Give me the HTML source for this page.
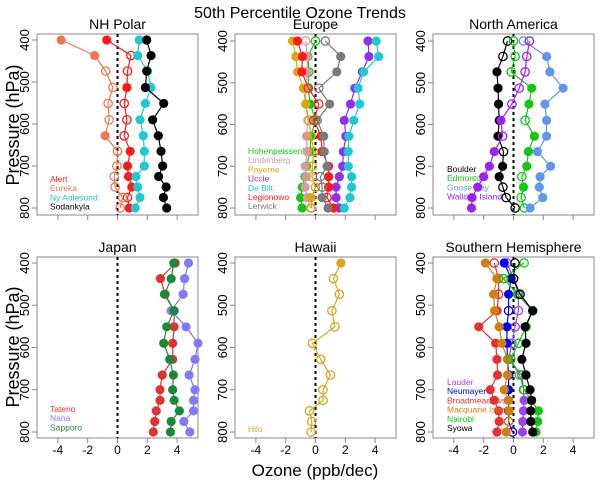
<!DOCTYPE html>
<html><head><meta charset="utf-8"><style>
html,body{margin:0;padding:0;background:#fff;}
svg{display:block;font-family:"Liberation Sans",Arial,sans-serif;}
</style></head><body>
<svg id="c" width="600" height="480" viewBox="0 0 600 480">
<text x="300" y="18" text-anchor="middle" font-size="16">50th Percentile Ozone Trends</text>
<text x="0" y="0" transform="translate(19,125) rotate(-90)" text-anchor="middle" font-size="18">Pressure (hPa)</text>
<text x="0" y="0" transform="translate(19,347) rotate(-90)" text-anchor="middle" font-size="18">Pressure (hPa)</text>
<text x="315" y="476" text-anchor="middle" font-size="17">Ozone (ppb/dec)</text>
</svg>
<script>
const levels = [400,437,474,513,551,590,628,665,700,725,750,775,800];
const xTicks = [-4,-2,0,2,4];
const yTicks = [400,500,600,700,800];
const panelTitles = ["NH Polar","Europe","North America","Japan","Hawaii","Southern Hemisphere"];

// panel 0 NH Polar
const alertVals = [-0.72,0.9,0.67,0.63,0.45,0.63,0.45,0.85,0.67,0.74,0.96,0.67,0.79];
const alertSig  = "FOOFOOOFFFFOF";
const eurekaVals = [-3.78,-1.53,-0.79,-0.31,-0.63,-0.56,-0.83,0,-0.04,-0.22,-0.16,0.34,0.18];
const eurekaSig  = "FFOOOOFOOOOOO";
const nyVals = [1.46,1.35,2.02,2.25,1.87,1.51,1.73,1.8,1.8,1.24,1.35,1.51,1.19];
const nySig  = "FFFFFFFFFFFFF";
const sodVals = [1.96,2.25,1.96,1.87,3.1,2.36,2.74,2.92,3.03,2.76,3.26,3.08,3.3];
const sodSig  = "FFFFFFFFFFFFF";
// panel 1 Europe
const hohVals = [0,-0.5,-0.44,-0.5,-0.35,0,-0.3,-0.37,-0.6,-0.7,-0.88,-1.0,-0.9];
const hohSig  = "OFOFFOFFFFFFF";
const linVals = [-0.66,-0.55,-0.55,-0.66,-0.66,-0.5,-0.6,-0.55,-0.7,-0.6,-0.7,-0.55,-0.33];
const linSig  = "OFFFFOFFFFFFO";
const payVals = [-1.54,-1.32,-1.2,-0.81,-0.66,-0.44,-0.29,-0.11,-0.22,-0.22,0,-0.29,-0.26];
const paySig  = "FFFFFOOOOOOFO";
const uccVals = [3.52,3.58,3.14,2.64,2.35,1.93,2.04,1.87,1.82,1.6,1.38,1.38,1.6];
const uccSig  = "FFFFFFFFFFFFF";
const debVals = [4.07,4.24,3.23,2.86,2.97,2.57,2.24,2.2,2.2,2.42,2.42,2.31,1.93];
const debSig  = "FFFFFFFFFFFFF";
const legVals = [-1.21,-0.88,-0.92,-0.48,0.22,-0.11,0.37,0.44,0.88,0.88,0.88,0.77,1.21];
const legSig  = "FFFOOOFFFFFOF";
const lerVals = [0.66,1.69,1.43,0.22,0.95,0.11,0.55,0.59,0.77,0.33,0.44,0.44,0.84];
const lerSig  = "OFFOFOFFFOOFF";
// panel 2 North America
const bouVals = [-0.4,-0.71,-1.11,-1.04,-1.0,-0.96,-1.04,-0.67,-0.73,-0.96,-0.71,-0.49,0.11];
const bouSig  = "OOFFFFFOFFOOO";
const edmVals = [0,0.11,-0.16,1.22,1.04,0.78,1.4,1.0,0.89,0.56,0.67,0.51,0.73];
const edmSig  = "OOOFFOFFFOFOO";
const gooVals = [0.67,2.22,2.44,3.33,2.11,2.22,2.22,1.6,2.49,1.78,1.73,1.96,1.11];
const gooSig  = "OFFFFFFFFFFFF";
const walVals = [1.07,0.89,0.78,0.38,-0.11,-0.84,-0.73,-1.29,-1.62,-2.0,-2.4,-2.78,-2.82];
const walSig  = "OOOOOFOFFFFFF";
// panel 3 Japan
const tatVals = [3.87,2.88,3.2,3.8,3.8,3.7,3.7,3.0,2.85,2.85,2.6,2.5,2.4];
const nahVals = [4.76,4.5,4.4,3.6,4.6,5.4,5.2,4.8,5.2,5.1,5.1,4.45,4.85];
const sapVals = [3.77,3.6,3.15,3.8,3.3,3.1,3.5,3.75,3.7,3.8,4.15,3.6,3.55];
const allSig  = "FFFFFFFFFFFFF";
// panel 4 Hawaii
const hiloVals = [1.7,1.2,1.6,1.1,1.3,-0.2,0.35,1.0,0.5,0.5,-0.4,-0.25,-0.3];
const hiloSig  = "FOOOOOOOOOOOO";
// panel 5 Southern Hemisphere
const lauVals = [-0.44,0,0.33,0.33,0.11,-0.11,-0.33,0.56,0.67,0.71,0.67,0.62,0.6];
const lauSig  = "OOOOOOOOOFFFF";
const neuVals = [-0.62,-0.16,-0.33,-0.33,-0.44,-0.44,-0.4,-0.33,-0.33,-0.33,-0.33,-0.33,-0.07];
const neuSig  = "FFFOFFFOFFFOO";
const broVals = [-1.29,-1.0,-1.0,-1.1,-2.33,-1.2,-1.11,-1.07,-1.56,-1.29,-1.0,-0.96,-1.11];
const broSig  = "OOOFFFFFFFFFF";
const macVals = [-1.89,-1.11,-1.33,-1.27,-0.96,-0.78,-0.4,-0.4,-0.62,-0.33,-0.29,-0.33,-0.49];
const macSig  = "FFFFFFFFFFFOF";
const naiVals = [0.71,-0.67,0.27,1.29,0.84,0.33,-0.18,0.4,0.71,1.18,1.67,1.62,1.51];
const naiSig  = "OOOOOOOOOFFFF";
const syoVals = [0.1,0,0.44,1.29,0.78,0.84,0.56,0.84,1.11,1.22,1.16,1.16,1.29];
const syoSig  = "OOOFFFFFFFFFF";

const panels = [
 {l:37,t:34,r:198,b:215,y4:40,y8:208,xl:false,yl:true,lx:50,ly:182,series:[
  ["Alert","#ff1a1a",alertVals,alertSig],["Eureka","#f07850",eurekaVals,eurekaSig],
  ["Ny Aalesund","#20c8d2",nyVals,nySig],["Sodankyla","#000000",sodVals,sodSig]]},
 {l:235,t:34,r:396,b:215,y4:41,y8:208,xl:false,yl:true,lx:248,ly:154,series:[
  ["Hohenpeissenberg","#10c810",hohVals,hohSig],["Lindenberg","#d898a8",linVals,linSig],
  ["Payerne","#d8a810",payVals,paySig],["Uccle","#9030f0",uccVals,uccSig],
  ["De Bilt","#20c8d2",debVals,debSig],["Legionowo","#ff1a1a",legVals,legSig],
  ["Lerwick","#7a7a7a",lerVals,lerSig]]},
 {l:433,t:34,r:594,b:215,y4:41,y8:208,xl:false,yl:true,lx:447,ly:172,series:[
  ["Boulder","#000000",bouVals,bouSig],["Edmonton","#10c810",edmVals,edmSig],
  ["Goose Bay","#6495ed",gooVals,gooSig],["Wallops Island","#a020f0",walVals,walSig]]},
 {l:37,t:257,r:198,b:438,y4:263,y8:432,xl:true,yl:true,lx:50,ly:412,series:[
  ["Tateno","#dd3333",tatVals,allSig],["Naha","#8478ff",nahVals,allSig],
  ["Sapporo","#1a8a3a",sapVals,allSig]]},
 {l:235,t:257,r:396,b:438,y4:263,y8:432,xl:true,yl:true,lx:248,ly:432,series:[
  ["Hilo","#daa520",hiloVals,hiloSig]]},
 {l:433,t:257,r:594,b:438,y4:263,y8:432,xl:true,yl:true,lx:447,ly:385,series:[
  ["Lauder","#a040f0",lauVals,lauSig],["Neumayer","#0000ff",neuVals,neuSig],
  ["Broadmeadows","#e83030",broVals,broSig],["Macquarie Island","#d08010",macVals,macSig],
  ["Nairobi","#10c810",naiVals,naiSig],["Syowa","#000000",syoVals,syoSig]]}
];

const NS="http://www.w3.org/2000/svg";
const svg=document.getElementById('c');
function mk(tag,attrs,parent){const e=document.createElementNS(NS,tag);for(const k in attrs)e.setAttribute(k,attrs[k]);(parent||svg).appendChild(e);return e;}

panels.forEach((p,pi)=>{
  const g=mk('g',{});
  
  
  const cx=(p.l+p.r)/2, ux=(p.r-p.l)/10.8;
  const xs=v=>cx+v*ux;
  const ys=pr=>p.y4+(pr-400)*(p.y8-p.y4)/400;
  const t=mk('text',{x:cx,y:p.t-5,'text-anchor':'middle','font-size':14},g);
  t.textContent=panelTitles[pi];
  
  
  const box=mk('rect',{x:p.l,y:p.t,width:p.r-p.l,height:p.b-p.t,fill:'none',stroke:'#888','stroke-width':1},g);
  
  
  xTicks.forEach(v=>{
    mk('line',{x1:xs(v),x2:xs(v),y1:p.b,y2:p.b+5,stroke:'#888'},g);
    if(p.xl){const tl=mk('text',{x:xs(v),y:p.b+16,'text-anchor':'middle','font-size':12},g);tl.textContent=v;
      
      }
  });
  yTicks.forEach(v=>{
    mk('line',{x1:p.l-5,x2:p.l,y1:ys(v),y2:ys(v),stroke:'#888'},g);
    const tl=mk('text',{x:0,y:0,transform:`translate(${p.l-8},${ys(v)}) rotate(-90)`,'text-anchor':'middle','font-size':13},g);
    tl.textContent=v;
    
    
  });
  const z=mk('line',{x1:xs(0),x2:xs(0),y1:p.t,y2:p.b,stroke:'#000','stroke-width':2,'stroke-dasharray':'3,3'},g);
  
  
  p.series.forEach((s,si)=>{
    const [name,col,vals,sig]=s;
    const sg=mk('g',{},g);
    
    
    const pts=vals.map((v,i)=>xs(v).toFixed(1)+','+ys(levels[i]).toFixed(1)).join(' ');
    mk('polyline',{points:pts,fill:'none',stroke:col,'stroke-width':1.2},sg);
    vals.forEach((v,i)=>{
      const f=sig[i]==='F';
      const c=mk('circle',{cx:xs(v),cy:ys(levels[i]),r:f?4.6:4.2,fill:f?col:'#fff','fill-opacity':f?1:0,stroke:col,'stroke-width':f?0:1.3},sg);
      
      
    });
    const lt=mk('text',{x:p.lx,y:p.ly+si*9.2,'font-size':8.5,fill:col},g);
    lt.textContent=name;
    
    
  });
});
</script>
</body></html>
